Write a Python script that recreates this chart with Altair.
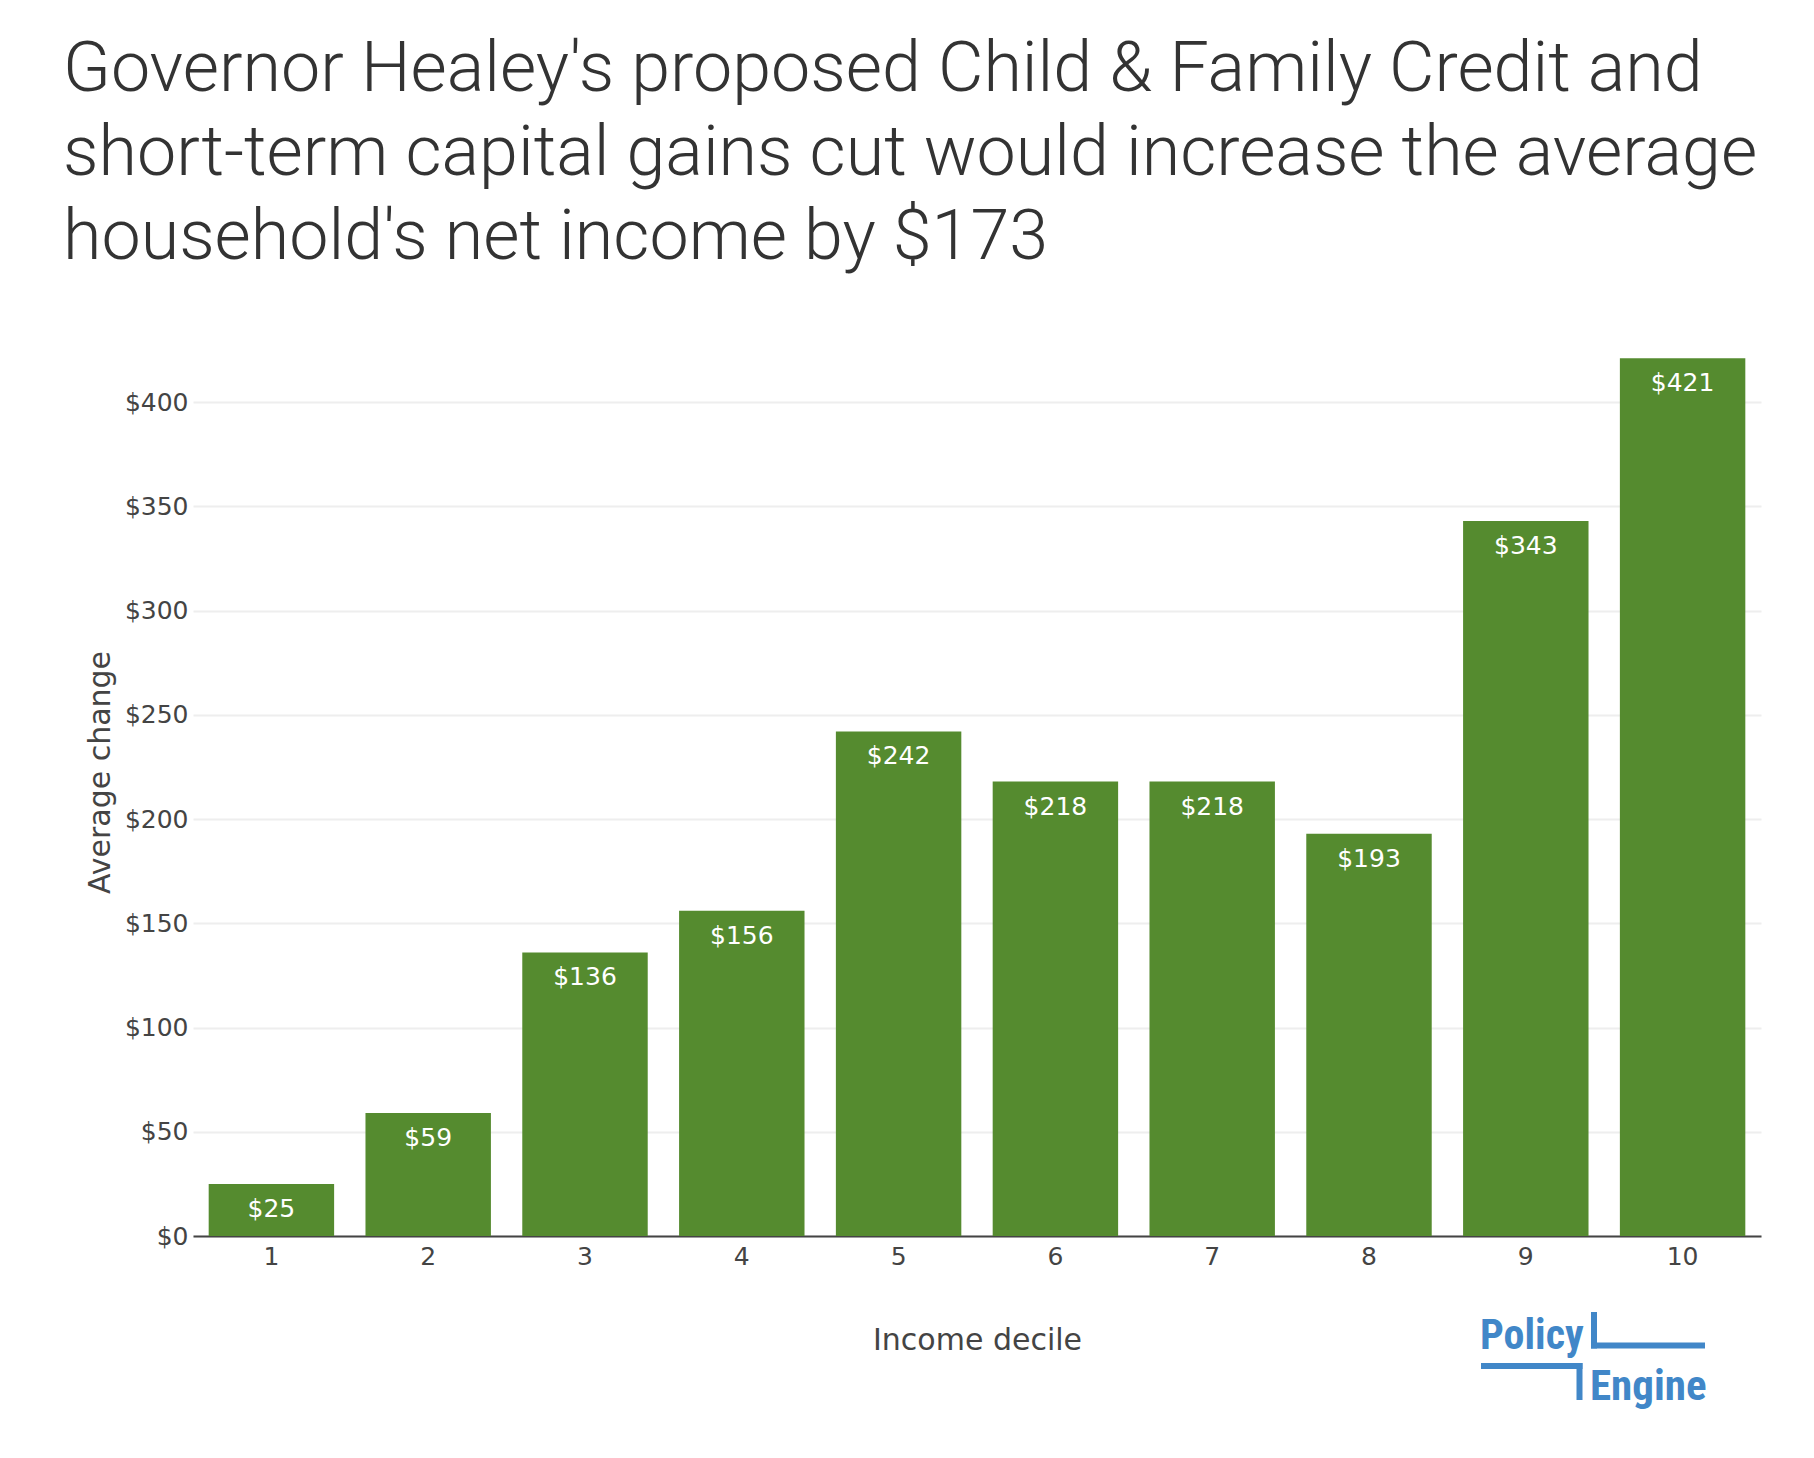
import altair as alt
import pandas as pd

deciles = ["1", "2", "3", "4", "5", "6", "7", "8", "9", "10"]
avg_change = [25, 59, 136, 156, 242, 218, 218, 193, 343, 421]
y_ticks = [0, 50, 100, 150, 200, 250, 300, 350, 400]
title_lines = [
    "Governor Healey's proposed Child & Family Credit and",
    "short-term capital gains cut would increase the average",
    "household's net income by $173",
]
logo_words = ["Policy", "Engine"]

df = pd.DataFrame({"decile": deciles, "change": avg_change})

W, H = 1568, 924
GREEN = "#558B2F"
BLUE = "#4187C8"
TXT = "#444444"

x_enc = alt.X(
    "decile:N",
    sort=deciles,
    scale=alt.Scale(paddingInner=0.2, paddingOuter=0.1),
    axis=alt.Axis(
        title="Income decile",
        labelAngle=0,
        ticks=False,
        labelPadding=8,
        labelFontSize=25,
        labelColor=TXT,
        labelFont="DejaVu Sans",
        titleFont="DejaVu Sans",
        titleFontSize=30,
        titleFontWeight="normal",
        titleColor=TXT,
        titleBaseline="middle",
        titleY=104,
        grid=False,
        domain=True,
        domainColor="#444444",
        domainWidth=2,
    ),
)
y_enc = alt.Y(
    "change:Q",
    scale=alt.Scale(domain=[0, 443.2], nice=False, zero=True),
    axis=alt.Axis(
        title="Average change",
        values=y_ticks,
        format="$,.0f",
        ticks=False,
        domain=False,
        labelPadding=5,
        labelFontSize=25,
        labelColor=TXT,
        labelFont="DejaVu Sans",
        titleFont="DejaVu Sans",
        titleFontSize=30,
        titleFontWeight="normal",
        titleColor=TXT,
        titleAngle=-90,
        titleAlign="center",
        titleBaseline="middle",
        titleX=-93,
        titleY=460,
        grid=True,
        gridColor="#eeeeee",
        gridWidth=2,
    ),
)

base = alt.Chart(df)
bars = base.mark_bar(color=GREEN).encode(x=x_enc, y=y_enc)
labels = base.mark_text(
    color="white", font="DejaVu Sans", fontSize=25, baseline="middle", dy=25
).encode(
    x=alt.X("decile:N", sort=deciles),
    y=alt.Y("change:Q"),
    text=alt.Text("change:Q", format="$.0f"),
)

one = alt.Data(values=[{"k": 1}])
logo_font = "Roboto Condensed, Roboto, sans-serif"
policy_txt = alt.Chart(one).mark_text(
    text=logo_words[0], font=logo_font, fontWeight="bold", fontSize=42,
    color=BLUE, align="left", baseline="alphabetic",
).encode(x=alt.value(1287), y=alt.value(1037))
engine_txt = alt.Chart(one).mark_text(
    text=logo_words[1], font=logo_font, fontWeight="bold", fontSize=43,
    color=BLUE, align="left", baseline="alphabetic",
).encode(x=alt.value(1397), y=alt.value(1088))
rule_a_v = alt.Chart(one).mark_rule(color=BLUE, strokeWidth=6).encode(
    x=alt.value(1401), y=alt.value(1000), y2=alt.value(1036.5))
rule_a_h = alt.Chart(one).mark_rule(color=BLUE, strokeWidth=6).encode(
    x=alt.value(1398), x2=alt.value(1512), y=alt.value(1033.5))
rule_b_h = alt.Chart(one).mark_rule(color=BLUE, strokeWidth=6).encode(
    x=alt.value(1288), x2=alt.value(1389.5), y=alt.value(1054))
rule_b_v = alt.Chart(one).mark_rule(color=BLUE, strokeWidth=6).encode(
    x=alt.value(1386.5), y=alt.value(1051), y2=alt.value(1088))

chart = alt.layer(
    bars, labels, policy_txt, engine_txt, rule_a_v, rule_a_h, rule_b_h, rule_b_v
).properties(
    width=W,
    height=H,
    background="white",
    title=alt.TitleParams(
        text=title_lines,
        anchor="start",
        frame="group",
        font="Roboto",
        fontWeight=300,
        fontSize=70,
        lineHeight=84,
        color="#333333",
        dx=-130,
        dy=-38,
        offset=0,
    ),
    autosize=alt.AutoSizeParams(type="none"),
    padding={"left": 185, "top": 304, "right": 40, "bottom": 200},
).configure_view(stroke="transparent", strokeWidth=0)

chart.save("out.html", embed_options={"renderer": "svg", "actions": False})
